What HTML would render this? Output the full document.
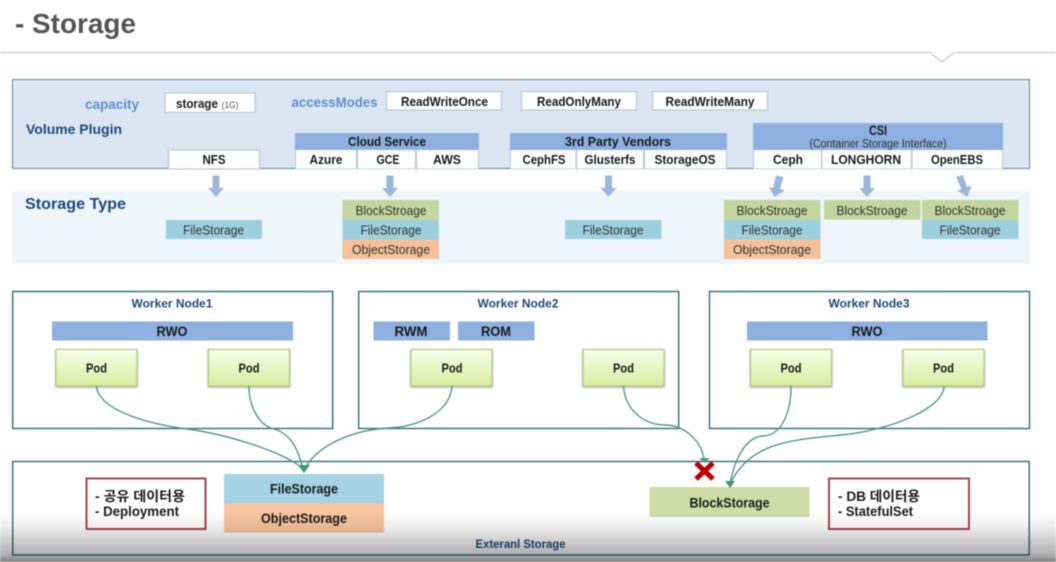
<!DOCTYPE html>
<html><head><meta charset="utf-8"><style>
html,body{margin:0;padding:0;background:#fff;width:1056px;height:562px;overflow:hidden}
svg{display:block;filter:blur(0.45px)}
text{font-family:"Liberation Sans","Noto Sans CJK KR",sans-serif;text-anchor:middle}
.b{font-weight:bold;fill:#1a1a1a;font-size:13px}
.m{font-weight:bold;fill:#1a1a1a;font-size:13.5px}
.l{font-weight:bold;fill:#1a1a1a;font-size:13.5px;text-anchor:start}
.r{fill:#333;font-size:13px}
.s{stroke:#2f6f78;stroke-width:1.4;fill:none}
.c{fill:none;stroke:#4f9a88;stroke-width:1.4}
.w{fill:#fff;stroke:#b4c7dc;stroke-width:1.2}
.t{fill:#1f497d;font-weight:bold;font-size:12px}
</style></head><body>
<svg width="1056" height="562" viewBox="0 0 1056 562" xmlns="http://www.w3.org/2000/svg">
<defs>
<linearGradient id="pod" x1="0" y1="0" x2="0" y2="1"><stop offset="0" stop-color="#fafde8"/><stop offset="1" stop-color="#d5ee9f"/></linearGradient>
<linearGradient id="fade" x1="0" y1="0" x2="0" y2="1"><stop offset="0" stop-color="#000" stop-opacity="0"/><stop offset="0.3" stop-color="#000" stop-opacity="0.07"/><stop offset="0.86" stop-color="#000" stop-opacity="0.32"/><stop offset="1" stop-color="#000" stop-opacity="0.5"/></linearGradient>
</defs>
<rect width="1056" height="562" fill="#fff"/>
<text x="15" y="33" style="text-anchor:start" font-size="28" font-weight="bold" fill="#555" textLength="121" lengthAdjust="spacingAndGlyphs">- Storage</text>
<path d="M0 52.5H930L942 62L954 52.5H1056" fill="none" stroke="#d4d4d4" stroke-width="1.6"/>

<rect x="12.500" y="79.500" width="1017" height="89" fill="#dce6f2" stroke="#7396b8" stroke-width="1.2"/>
<text x="112" y="109" font-size="13.5" font-weight="bold" fill="#5b90d0" textLength="54" lengthAdjust="spacingAndGlyphs">capacity</text>
<rect x="165" y="93" width="90" height="19.500" class="w"/>
<text x="197" y="108" class="b" textLength="42" lengthAdjust="spacingAndGlyphs">storage</text>
<text x="230" y="108" style="font-size:9.500px" fill="#555" textLength="17" lengthAdjust="spacingAndGlyphs">(1G)</text>
<text x="334.500" y="107" font-size="13.5" font-weight="bold" fill="#5b90d0" textLength="86" lengthAdjust="spacingAndGlyphs">accessModes</text>
<rect x="386.500" y="91.500" width="115" height="18.500" class="w"/>
<text x="444.500" y="106" class="b" textLength="87" lengthAdjust="spacingAndGlyphs">ReadWriteOnce</text>
<rect x="521.500" y="91.500" width="115" height="18.500" class="w"/>
<text x="579" y="106" class="b" textLength="84" lengthAdjust="spacingAndGlyphs">ReadOnlyMany</text>
<rect x="652.500" y="91.500" width="115" height="18.500" class="w"/>
<text x="710" y="106" class="b" textLength="89" lengthAdjust="spacingAndGlyphs">ReadWriteMany</text>
<text x="74" y="134" font-size="14" font-weight="bold" fill="#1f497d" textLength="96" lengthAdjust="spacingAndGlyphs">Volume Plugin</text>

<rect x="168.500" y="150" width="91" height="19" class="w"/>
<text x="214" y="164" class="b" textLength="23" lengthAdjust="spacingAndGlyphs">NFS</text>

<rect x="295" y="133" width="184" height="17" fill="#8db0e0"/>
<rect x="295" y="150" width="184" height="19" fill="#b4c7dc"/>
<rect x="296" y="150" width="60" height="18.500" fill="#fff"/>
<rect x="358" y="150" width="57" height="18.500" fill="#fff"/>
<rect x="417" y="150" width="61" height="18.500" fill="#fff"/>
<text x="387" y="146" class="b" textLength="78" lengthAdjust="spacingAndGlyphs">Cloud Service</text>
<text x="326" y="164" class="b" textLength="33" lengthAdjust="spacingAndGlyphs">Azure</text>
<text x="388" y="164" class="b" textLength="23" lengthAdjust="spacingAndGlyphs">GCE</text>
<text x="447" y="164" class="b" textLength="28" lengthAdjust="spacingAndGlyphs">AWS</text>

<rect x="510" y="133" width="217" height="17" fill="#8db0e0"/>
<rect x="510" y="150" width="217" height="19" fill="#b4c7dc"/>
<rect x="511" y="150" width="64.500" height="18.500" fill="#fff"/>
<rect x="577" y="150" width="66" height="18.500" fill="#fff"/>
<rect x="645" y="150" width="81" height="18.500" fill="#fff"/>
<text x="618" y="146" class="b" textLength="106" lengthAdjust="spacingAndGlyphs">3rd Party Vendors</text>
<text x="544" y="164" class="b" textLength="43" lengthAdjust="spacingAndGlyphs">CephFS</text>
<text x="610" y="164" class="b" textLength="51" lengthAdjust="spacingAndGlyphs">Glusterfs</text>
<text x="685" y="164" class="b" textLength="61" lengthAdjust="spacingAndGlyphs">StorageOS</text>

<rect x="753" y="123" width="250" height="27" fill="#8db0e0"/>
<rect x="753" y="150" width="250" height="19" fill="#b4c7dc"/>
<rect x="754" y="150" width="67" height="18.500" fill="#fff"/>
<rect x="822.500" y="150" width="88.500" height="18.500" fill="#fff"/>
<rect x="912.500" y="150" width="89.500" height="18.500" fill="#fff"/>
<text x="878" y="135" class="b" style="font-size:13.500px" textLength="18" lengthAdjust="spacingAndGlyphs">CSI</text>
<text x="878" y="147.500" style="font-size:11.500px" fill="#333" textLength="137" lengthAdjust="spacingAndGlyphs">(Container Storage Interface)</text>
<text x="788" y="164" class="b" textLength="30" lengthAdjust="spacingAndGlyphs">Ceph</text>
<text x="866" y="164" class="b" textLength="70" lengthAdjust="spacingAndGlyphs">LONGHORN</text>
<text x="957" y="164" class="b" textLength="52" lengthAdjust="spacingAndGlyphs">OpenEBS</text>

<rect x="12" y="191" width="1018" height="73" fill="#eef6fb"/>
<text x="75.500" y="209" font-size="16" font-weight="bold" fill="#1f497d" textLength="101" lengthAdjust="spacingAndGlyphs">Storage Type</text>

<g fill="#9bb8dc">
<path d="M212.500 175.500h7v12.500h4.500l-8 9l-8-9h4.500z"/>
<path d="M386.500 175.500h7v12.500h4.500l-8 9l-8-9h4.500z"/>
<path d="M605 175.500h7v12.500h4.500l-8 9l-8-9h4.500z"/>
<path d="M863.500 175.500h7v12.500h4.500l-8 9l-8-9h4.500z"/>
<path d="M776 175.500l7.500 1.500l-3.500 12l4.500 1.500l-10 6.500l-5.500-10l4 1z"/>
<path d="M956 177l7-2l4 12l4.500-1.500l-4 11.500l-10-6.500l4-1.500z"/>
</g>

<rect x="166" y="220" width="96" height="19" fill="#9dd0de"/><text x="213.500" y="234.500" class="r" textLength="61" lengthAdjust="spacingAndGlyphs">FileStorage</text>
<rect x="342.500" y="200" width="96.500" height="20" fill="#c4d69f"/><text x="391" y="215" class="r" textLength="71" lengthAdjust="spacingAndGlyphs">BlockStroage</text>
<rect x="342.500" y="220" width="96.500" height="19.500" fill="#9dd0de"/><text x="391" y="234.500" class="r" textLength="61" lengthAdjust="spacingAndGlyphs">FileStorage</text>
<rect x="342.500" y="239.500" width="96.500" height="19.500" fill="#f5c19a"/><text x="391" y="254" class="r" textLength="78" lengthAdjust="spacingAndGlyphs">ObjectStorage</text>
<rect x="565" y="220" width="96.500" height="19" fill="#9dd0de"/><text x="613" y="234.500" class="r" textLength="61" lengthAdjust="spacingAndGlyphs">FileStorage</text>
<rect x="724" y="200" width="96.500" height="20" fill="#c4d69f"/><text x="772" y="215" class="r" textLength="71" lengthAdjust="spacingAndGlyphs">BlockStroage</text>
<rect x="724" y="220" width="96.500" height="19.500" fill="#9dd0de"/><text x="772" y="234.500" class="r" textLength="61" lengthAdjust="spacingAndGlyphs">FileStorage</text>
<rect x="724" y="239.500" width="96.500" height="19.500" fill="#f5c19a"/><text x="772" y="254" class="r" textLength="78" lengthAdjust="spacingAndGlyphs">ObjectStorage</text>
<rect x="824" y="200" width="96.500" height="19.500" fill="#c4d69f"/><text x="872" y="215" class="r" textLength="71" lengthAdjust="spacingAndGlyphs">BlockStroage</text>
<rect x="922" y="200" width="96.500" height="20" fill="#c4d69f"/><text x="970" y="215" class="r" textLength="71" lengthAdjust="spacingAndGlyphs">BlockStroage</text>
<rect x="922" y="220" width="96.500" height="19" fill="#9dd0de"/><text x="970" y="234.500" class="r" textLength="61" lengthAdjust="spacingAndGlyphs">FileStorage</text>

<rect x="12.700" y="291.500" width="320" height="137" class="s"/>
<rect x="358.700" y="291.500" width="320" height="137" class="s"/>
<rect x="709.500" y="291.500" width="320" height="137" class="s"/>
<text x="172" y="307.500" class="t" textLength="81" lengthAdjust="spacingAndGlyphs">Worker Node1</text>
<text x="518" y="307.500" class="t" textLength="81" lengthAdjust="spacingAndGlyphs">Worker Node2</text>
<text x="869" y="307.500" class="t" textLength="81" lengthAdjust="spacingAndGlyphs">Worker Node3</text>

<g fill="#8db0e0">
<rect x="52" y="321.500" width="241" height="19"/>
<rect x="373.500" y="321.500" width="76.500" height="19"/>
<rect x="458" y="321.500" width="76.500" height="19"/>
<rect x="747" y="321.500" width="240.500" height="19"/>
</g>
<text x="172" y="336" class="m" textLength="31" lengthAdjust="spacingAndGlyphs">RWO</text>
<text x="411" y="336" class="m" textLength="33" lengthAdjust="spacingAndGlyphs">RWM</text>
<text x="496" y="336" class="m" textLength="30" lengthAdjust="spacingAndGlyphs">ROM</text>
<text x="867" y="336" class="m" textLength="31" lengthAdjust="spacingAndGlyphs">RWO</text>

<g fill="url(#pod)" stroke="#b5c77f" stroke-width="1.200" style="filter:drop-shadow(0.6px 1px 1px rgba(0,0,0,.35))">
<rect x="56" y="349.500" width="81" height="36.500"/>
<rect x="208.500" y="349.500" width="81" height="36.500"/>
<rect x="411" y="349.500" width="81" height="36.500"/>
<rect x="583" y="349.500" width="81" height="36.500"/>
<rect x="750.500" y="349.500" width="81" height="36.500"/>
<rect x="903" y="349.500" width="81" height="36.500"/>
</g>
<text x="96.500" y="372.500" class="b" textLength="21" lengthAdjust="spacingAndGlyphs">Pod</text>
<text x="249" y="372.500" class="b" textLength="21" lengthAdjust="spacingAndGlyphs">Pod</text>
<text x="452" y="372.500" class="b" textLength="21" lengthAdjust="spacingAndGlyphs">Pod</text>
<text x="623.500" y="372.500" class="b" textLength="21" lengthAdjust="spacingAndGlyphs">Pod</text>
<text x="791" y="372.500" class="b" textLength="21" lengthAdjust="spacingAndGlyphs">Pod</text>
<text x="943.500" y="372.500" class="b" textLength="21" lengthAdjust="spacingAndGlyphs">Pod</text>

<rect x="12.700" y="461.500" width="1016.500" height="93.500" class="s"/>
<rect x="224" y="474" width="160" height="29.500" fill="#a5d3e3"/>
<rect x="224" y="503.500" width="160" height="29" fill="#f9c6a0"/>
<text x="304" y="493.500" class="m" textLength="68" lengthAdjust="spacingAndGlyphs">FileStorage</text>
<text x="304" y="523" class="m" textLength="86" lengthAdjust="spacingAndGlyphs">ObjectStorage</text>
<rect x="649.500" y="487" width="160" height="30" fill="#d0dba8"/>
<text x="729.500" y="507.500" class="m" textLength="80" lengthAdjust="spacingAndGlyphs">BlockStorage</text>
<rect x="86.500" y="478.500" width="119" height="50.500" fill="#fff" stroke="#a5454d" stroke-width="2"/>
<rect x="829" y="478.500" width="140" height="50.500" fill="#fff" stroke="#a5454d" stroke-width="2"/>
<text x="95" y="501" class="l" textLength="90" lengthAdjust="spacingAndGlyphs">- 공유 데이터용</text>
<text x="95" y="516" class="l" textLength="84" lengthAdjust="spacingAndGlyphs">- Deployment</text>
<text x="838" y="501" class="l" textLength="82" lengthAdjust="spacingAndGlyphs">- DB 데이터용</text>
<text x="838" y="516" class="l" textLength="75" lengthAdjust="spacingAndGlyphs">- StatefulSet</text>
<text x="520.500" y="548" class="t" style="font-size:11.500px" textLength="90" lengthAdjust="spacingAndGlyphs">Exteranl Storage</text>

<g class="c">
<path d="M96.500 386C98 408 140 422 180 428C230 434 288 454 303 469"/>
<path d="M249 386C249 408 260 426 274 429C292 434 299 452 303 469"/>
<path d="M452 386C450 414 416 427 388 428C344 431 314 450 305 469"/>
<path d="M623.500 386C625 410 644 425 665 425C684 425 701 440 704 459"/>
<path d="M791 386C791 408 784 436 762 436C744 438 734 462 730 484"/>
<path d="M944 386C944 408 894 428 850 434C800 440 752 438 730 484"/>
</g>
<path d="M298 465L310 465L304 473Z" fill="#3f9377"/>
<path d="M699 458L710 458L704.500 463Z" fill="#4f9a88"/>
<path d="M725 481L735 481L730 488Z" fill="#3f9377"/>
<path d="M696 463L713 479M713 463L696 479" stroke="#c00000" stroke-width="5" fill="none"/>

<rect x="0" y="512" width="1056" height="50" fill="url(#fade)"/>
</svg>
</body></html>
